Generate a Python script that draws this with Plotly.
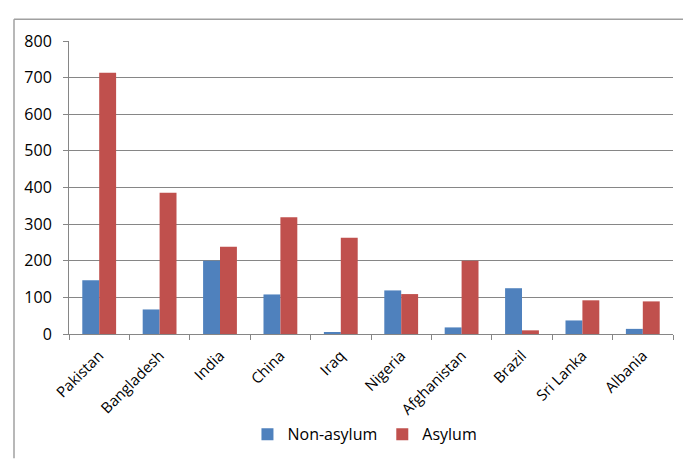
import plotly.graph_objects as go

countries = ["Pakistan", "Bangladesh", "India", "China", "Iraq", "Nigeria",
             "Afghanistan", "Brazil", "Sri Lanka", "Albania"]
non_asylum = [147, 67, 200, 108, 3, 119, 18, 125, 37, 14]
asylum = [713, 386, 238, 319, 263, 109, 200, 10, 92, 89]

FONT = "Open Sans"
L, R, T, B = 69, 10, 41, 125
W, H = 683, 461
pw, ph = W - L - R, H - T - B

def px(x):
    return (x - L) / pw

def py(y):
    return (H - B - y) / ph

fig = go.Figure()
fig.add_trace(go.Bar(x=countries, y=non_asylum, name="Non-asylum",
                     marker=dict(color="#4F81BD", line=dict(width=0))))
fig.add_trace(go.Bar(x=countries, y=asylum, name="Asylum",
                     marker=dict(color="#C0504D", line=dict(width=0))))

fig.update_layout(
    width=W, height=H,
    margin=dict(l=L, r=R, t=T, b=B),
    paper_bgcolor="white", plot_bgcolor="white",
    barmode="group", bargap=0.44, bargroupgap=0,
    font=dict(family=FONT, color="#000000"),
    legend=dict(orientation="h", x=0.49, xanchor="center", y=py(437), yanchor="middle",
                font=dict(size=16, family=FONT), itemwidth=30, traceorder="normal"),
    xaxis=dict(showline=True, linecolor="#868686", linewidth=1,
               ticks="outside", tickson="boundaries", ticklen=5, tickcolor="#868686",
               tickangle=-45, tickfont=dict(size=15, family=FONT),
               ticklabelstandoff=6, showgrid=False),
    yaxis=dict(range=[0, 800], dtick=100, showline=True, linecolor="#868686", linewidth=1,
               ticks="outside", ticklen=5, tickcolor="#868686",
               showgrid=True, gridcolor="#868686", gridwidth=1,
               tickfont=dict(size=16, family=FONT), ticklabelstandoff=8, zeroline=False),
    shapes=[
        dict(type="line", xref="paper", yref="paper", x0=px(14), x1=px(683),
             y0=py(19), y1=py(19), line=dict(color="#A0A0A0", width=1.5)),
        dict(type="line", xref="paper", yref="paper", x0=px(14), x1=px(14),
             y0=py(19), y1=py(461), line=dict(color="#A0A0A0", width=1.5)),
    ],
)

fig.write_html("out.html")
